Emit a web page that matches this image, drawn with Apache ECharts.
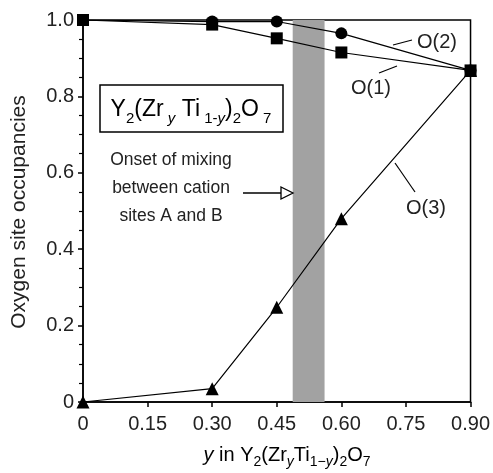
<!DOCTYPE html>
<html><head><meta charset="utf-8">
<script src="https://cdn.jsdelivr.net/npm/echarts@6/dist/echarts.min.js"></script>
<style>html,body{margin:0;padding:0;background:#fff}#c{width:493px;height:473px}</style>
</head><body><div id="c"></div>
<script>
// ---- data ----
const yComp = [0, 0.30, 0.45, 0.60, 0.90];
const o1 = [1.0, 0.988, 0.952, 0.915, 0.868];
const o2 = [1.0, 0.996, 0.996, 0.965, 0.868];
const o3 = [0, 0.035, 0.248, 0.48, 0.868];
const mixingBand = [0.487, 0.561];
const xTickLabels = ['0', '0.15', '0.30', '0.45', '0.60', '0.75', '0.90'];
const yTickLabels = ['0', '0.2', '0.4', '0.6', '0.8', '1.0'];

const FONT = "'Liberation Sans', Arial, Helvetica, sans-serif";
const TXT = '#222';
const pair = (xs, ys) => xs.map((x, i) => [x, ys[i]]);

const chart = echarts.init(document.getElementById('c'));
const subRich = (main, sub, lh) => ({
  m: { fontSize: main, fontFamily: FONT, color: TXT, lineHeight: lh },
  i: { fontSize: main, fontFamily: FONT, color: TXT, lineHeight: lh, fontStyle: 'italic' },
  s: { fontSize: sub, fontFamily: FONT, color: TXT, lineHeight: sub, verticalAlign: 'bottom' },
  si: { fontSize: sub, fontFamily: FONT, color: TXT, lineHeight: sub, verticalAlign: 'bottom', fontStyle: 'italic' }
});

const option = {
  animation: false,
  backgroundColor: '#fff',
  grid: { left: 83, right: 22, top: 20, bottom: 71, show: true, borderColor: '#000', borderWidth: 1.5, backgroundColor: 'transparent' },
  xAxis: {
    type: 'value', min: 0, max: 0.9, interval: 0.15,
    axisLine: { show: true, lineStyle: { color: '#000', width: 1.5 } },
    axisTick: { show: true, length: 5, lineStyle: { color: '#000', width: 1.5 } },
    splitLine: { show: false },
    axisLabel: {
      margin: 12, fontSize: 20, fontFamily: FONT, color: TXT,
      formatter: v => xTickLabels[Math.round(v / 0.15)]
    }
  },
  yAxis: {
    type: 'value', min: 0, max: 1.0, interval: 0.2,
    axisLine: { show: true, lineStyle: { color: '#000', width: 1.5 } },
    axisTick: { show: true, length: 5, lineStyle: { color: '#000', width: 1.5 } },
    minorTick: { show: true, splitNumber: 4, length: 4, lineStyle: { color: '#000', width: 1.2 } },
    splitLine: { show: false },
    axisLabel: {
      margin: 9, fontSize: 20, fontFamily: FONT, color: TXT,
      formatter: v => yTickLabels[Math.round(v / 0.2)]
    }
  },
  series: [
    {
      name: 'O(3)', type: 'line', data: pair(yComp, o3),
      symbol: 'triangle', symbolSize: 13,
      lineStyle: { color: '#000', width: 1.2 }, itemStyle: { color: '#000' },
      markArea: {
        silent: true, z: 1,
        itemStyle: { color: '#a2a2a2', opacity: 1 },
        data: [[{ xAxis: mixingBand[0], yAxis: 0 }, { xAxis: mixingBand[1], yAxis: 1.0 }]]
      }
    },
    {
      name: 'O(2)', type: 'line', data: pair(yComp, o2),
      symbol: 'circle', symbolSize: 12,
      lineStyle: { color: '#000', width: 1.2 }, itemStyle: { color: '#000' }
    },
    {
      name: 'O(1)', type: 'line', data: pair(yComp, o1),
      symbol: 'rect', symbolSize: 12,
      lineStyle: { color: '#000', width: 1.2 }, itemStyle: { color: '#000' }
    }
  ],
  graphic: [
    // y axis title
    { type: 'text', x: 19, y: 212, rotation: Math.PI / 2, z: 10,
      style: { text: 'Oxygen site occupancies', fontSize: 21, fontFamily: FONT, fill: TXT, align: 'center', verticalAlign: 'middle' } },
    // x axis title
    { type: 'text', x: 287, y: 455, z: 10,
      style: { text: '{i|y}{m| in Y}{s|2}{m|(Zr}{si|y}{m|Ti}{s|1−}{si|y}{m|)}{s|2}{m|O}{s|7}',
        rich: subRich(20, 14, 28), align: 'center', verticalAlign: 'middle' } },
    // formula box
    { type: 'rect', shape: { x: 100, y: 85, width: 183, height: 47 }, z: 10,
      style: { fill: '#fff', stroke: '#000', lineWidth: 1.5 } },
    { type: 'text', x: 191, y: 110, z: 11,
      style: { text: '{m|Y}{s|2}{m|(Zr}{si| y}{m| Ti}{s| 1-}{si|y}{m|)}{s|2}{m|O}{s| 7}',
        rich: subRich(23, 15, 32), align: 'center', verticalAlign: 'middle' } },
    // onset text
    { type: 'text', x: 171, y: 160, z: 10,
      style: { text: 'Onset of mixing', fontSize: 17.5, fontFamily: FONT, fill: TXT, align: 'center', verticalAlign: 'middle' } },
    { type: 'text', x: 171, y: 188, z: 10,
      style: { text: 'between cation', fontSize: 17.5, fontFamily: FONT, fill: TXT, align: 'center', verticalAlign: 'middle' } },
    { type: 'text', x: 171, y: 216, z: 10,
      style: { text: 'sites A and B', fontSize: 17.5, fontFamily: FONT, fill: TXT, align: 'center', verticalAlign: 'middle' } },
    // arrow
    { type: 'line', shape: { x1: 243, y1: 193, x2: 282, y2: 193 }, z: 10, style: { stroke: '#000', lineWidth: 1.3 } },
    { type: 'polygon', shape: { points: [[281, 187], [293, 193], [281, 199]] }, z: 10, style: { fill: '#fff', stroke: '#000', lineWidth: 1.3 } },
    // series labels
    { type: 'text', x: 437, y: 42, z: 10,
      style: { text: 'O(2)', fontSize: 20, fontFamily: FONT, fill: TXT, align: 'center', verticalAlign: 'middle' } },
    { type: 'line', shape: { x1: 393, y1: 45, x2: 412, y2: 40 }, z: 10, style: { stroke: '#000', lineWidth: 1.2 } },
    { type: 'text', x: 371, y: 88, z: 10,
      style: { text: 'O(1)', fontSize: 20, fontFamily: FONT, fill: TXT, align: 'center', verticalAlign: 'middle' } },
    { type: 'line', shape: { x1: 379, y1: 73, x2: 397, y2: 66 }, z: 10, style: { stroke: '#000', lineWidth: 1.2 } },
    { type: 'text', x: 426, y: 208, z: 10,
      style: { text: 'O(3)', fontSize: 20, fontFamily: FONT, fill: TXT, align: 'center', verticalAlign: 'middle' } },
    { type: 'line', shape: { x1: 395, y1: 163, x2: 415, y2: 192 }, z: 10, style: { stroke: '#000', lineWidth: 1.2 } }
  ]
};
chart.setOption(option);
</script>
</body></html>
